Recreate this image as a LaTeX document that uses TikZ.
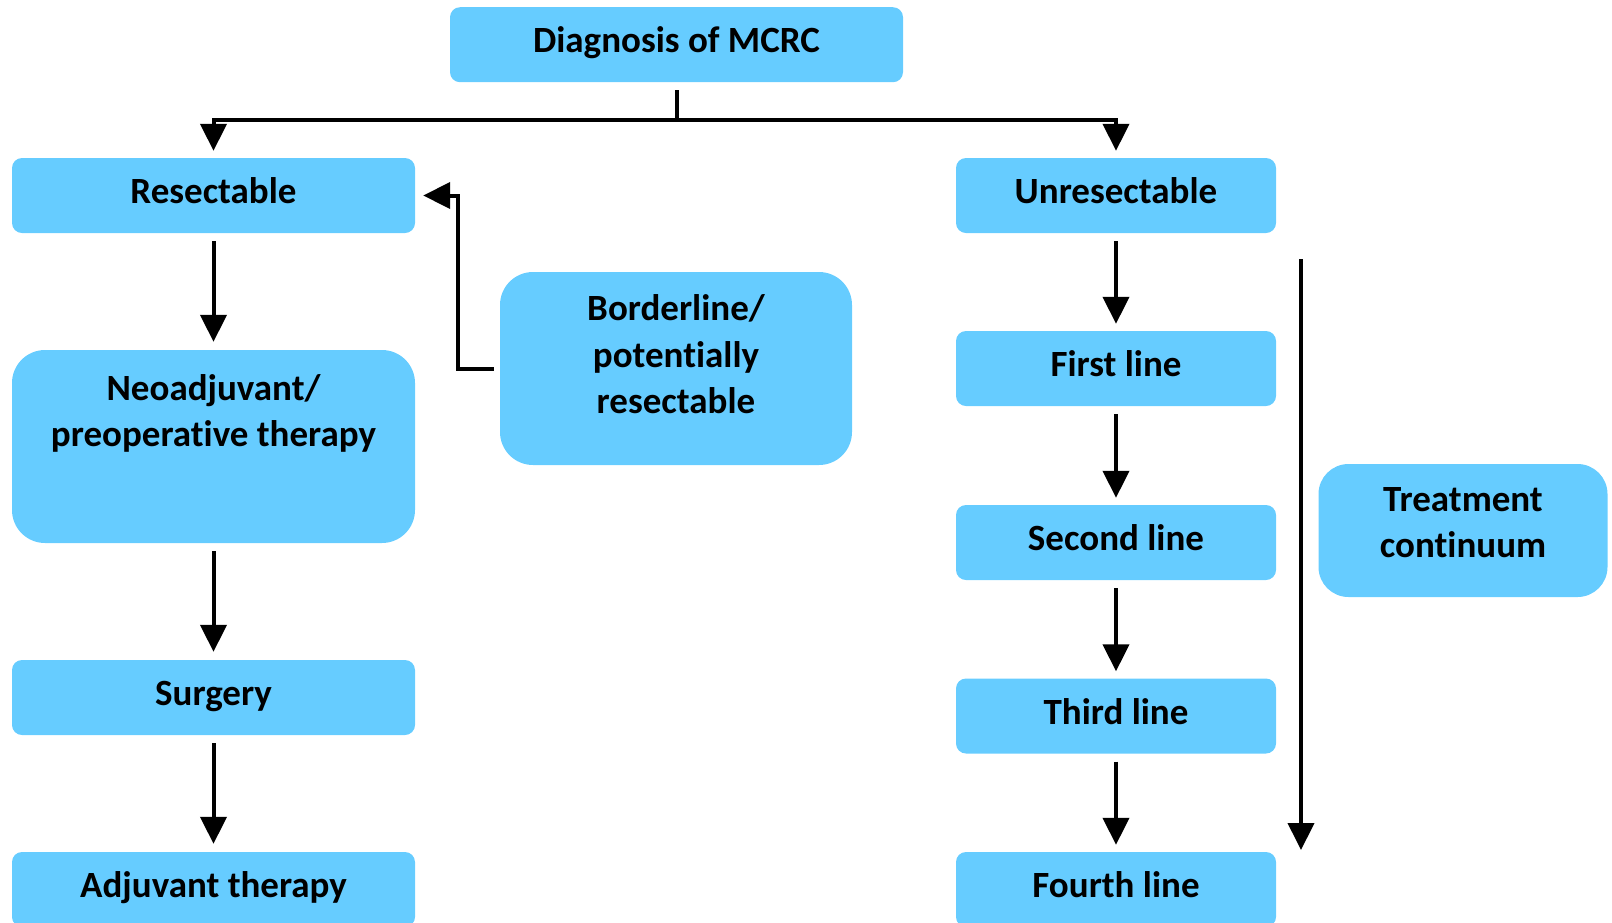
\documentclass[tikz,border=0pt]{standalone}
\usepackage{fontspec}
\setmainfont{Carlito}[RawFeature={-liga;-clig;-dlig;-calt}]
\usetikzlibrary{arrows.meta}
\definecolor{boxblue}{HTML}{66CCFF}
\newcommand{\nti}{t\kern0pt i}
\begin{document}
\begin{tikzpicture}[x=1pt,y=-1pt,
  box/.style={fill=boxblue, draw=none, rounded corners=10pt, inner sep=0pt,
    font=\fontsize{37}{46.5}\selectfont\bfseries, align=center},
  onebox/.style={box, text height=26pt, text depth=10pt},
  bigbox/.style={box, rounded corners=33pt},
  conn/.style={line width=4pt, draw=black},
  arr/.style={conn, -{Triangle[width=26pt,length=27pt]}},
]
\useasboundingbox (0,0) rectangle (1612,922);

% nodes
\node[onebox, minimum width=453pt, minimum height=75pt] (diag) at (676.5,44.7) {Diagnosis of MCRC};
\node[onebox, minimum width=403pt, minimum height=75pt] (res) at (213.5,195.5) {Resectable};
\node[onebox, minimum width=320pt, minimum height=75pt] (unres) at (1116,195.5) {Unresectable};
\node[bigbox, minimum width=352pt, minimum height=193pt] (border) at (676,368.5)
  {\rule{0pt}{30pt}Borderline/\\potentially\\resectable\rule[-33pt]{0pt}{33pt}};
\node[bigbox, minimum width=403pt, minimum height=193pt] (neo) at (213.5,446.5)
  {\rule{0pt}{28pt}Neoadjuvant/\\preopera\nti ve therapy\rule[-74pt]{0pt}{74pt}};
\node[onebox, minimum width=403pt, minimum height=75pt] (surg) at (213.5,697.5) {Surgery};
\node[onebox, minimum width=403pt, minimum height=75pt] (adj) at (213.5,889.5) {Adjuvant therapy};
\node[onebox, minimum width=320pt, minimum height=75pt] (first) at (1116,368.5) {First line};
\node[onebox, minimum width=320pt, minimum height=75pt] (second) at (1116,542.5) {Second line};
\node[onebox, minimum width=320pt, minimum height=75pt] (third) at (1116,716) {Third line};
\node[onebox, minimum width=320pt, minimum height=75pt] (fourth) at (1116,889.5) {Fourth line};
\node[box, rounded corners=30pt, minimum width=289pt, minimum height=133pt] (treat) at (1463,530.5)
  {\rule{0pt}{30pt}Treatment\\con\nti nuum\rule[-22pt]{0pt}{22pt}};

% connectors
\coordinate (split) at (676.5,120);
\draw[conn, shorten <=8pt] (diag.south) -- (split);
\draw[arr, shorten >=7pt] (split) -| (res.north);
\draw[arr, shorten >=7pt] (split) -| (unres.north);

\draw[arr, shorten <=6pt, shorten >=8pt] (border.west) -- ++(-42,0) |- (res.east);

\draw[arr, shorten <=8pt, shorten >=8pt] (res.south) -- (neo.north);
\draw[arr, shorten <=8pt, shorten >=8pt] (neo.south) -- (surg.north);
\draw[arr, shorten <=8pt, shorten >=8pt] (surg.south) -- (adj.north);

\draw[arr, shorten <=8pt, shorten >=7pt] (unres.south) -- (first.north);
\draw[arr, shorten <=8pt, shorten >=7pt] (first.south) -- (second.north);
\draw[arr, shorten <=8pt, shorten >=7pt] (second.south) -- (third.north);
\draw[arr, shorten <=8pt, shorten >=7pt] (third.south) -- (fourth.north);

\coordinate (tctop) at (1301,259);
\coordinate (tcbot) at (1301,850);
\draw[arr] (tctop) -- (tcbot);
\end{tikzpicture}
\end{document}
